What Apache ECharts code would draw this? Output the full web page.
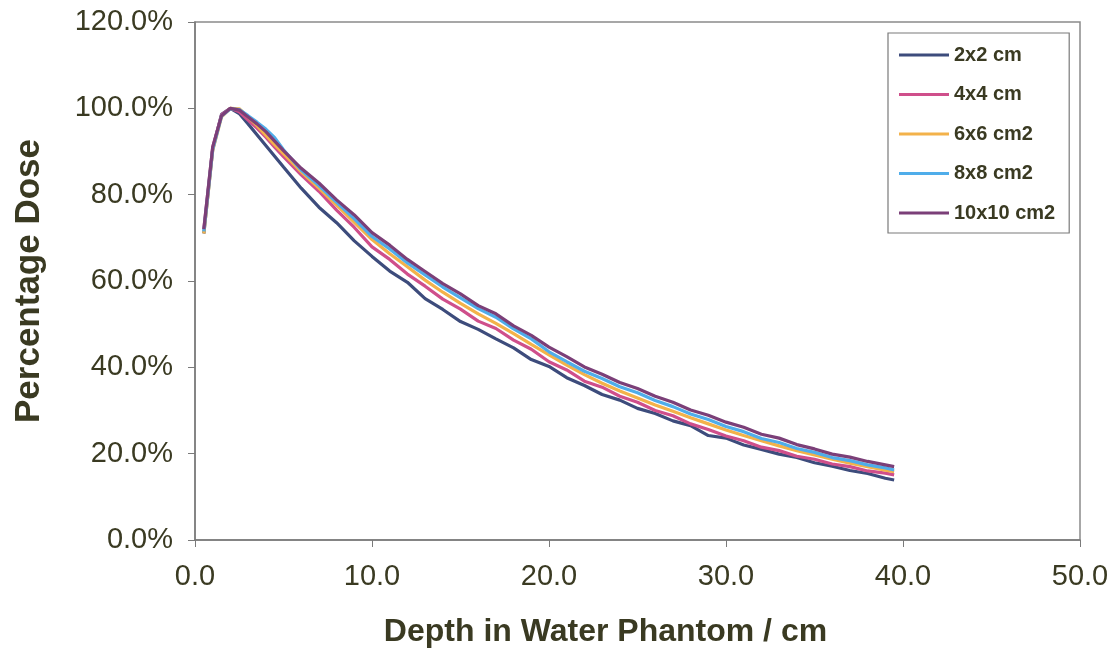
<!DOCTYPE html>
<html>
<head>
<meta charset="utf-8">
<script src="https://cdn.jsdelivr.net/npm/echarts@6/dist/echarts.min.js"></script>
<style>html,body{margin:0;padding:0;background:#fff;}#c{width:1119px;height:654px;}</style>
</head>
<body>
<div id="c"></div>
<script>
const depth = [0.5,1,1.5,2,2.5,3,3.5,4,4.5,5,6,7,8,9,10,11,12,13,14,15,16,17,18,19,20,21,22,23,24,25,26,27,28,29,30,31,32,33,34,35,36,37,38,39,39.5];
const seriesNames = ['2x2 cm','4x4 cm','6x6 cm2','8x8 cm2','10x10 cm2'];
const dose2x2 = [71,90.5,98.6,100,98.8,96.4,93.9,91.4,88.9,86.4,81.5,77.1,73.5,69.3,65.7,62.3,59.7,55.9,53.4,50.6,48.8,46.6,44.5,41.8,40.2,37.6,35.8,33.7,32.4,30.5,29.3,27.6,26.5,24.2,23.6,22.0,21.0,19.9,19.1,17.9,17.1,16.1,15.4,14.3,13.9];
const dose4x4 = [72,91,98.5,100,99.2,97.3,95.4,93.3,91.0,88.8,84.6,80.8,76.4,72.4,67.9,65.0,61.6,58.8,55.8,53.5,50.7,49.0,46.3,44.2,41.3,39.4,36.8,35.4,33.3,31.9,30.0,28.8,26.9,25.6,24.1,23.0,21.5,20.7,19.4,18.7,17.6,17.0,16.0,15.5,15.1];
const dose6x6 = [71,90.2,98,100,99.9,98,96,93.8,91.6,89.5,85.3,81.5,77.6,73.6,69.6,66.3,63.3,60.2,57.4,54.8,52.4,50.2,47.8,45.3,42.9,40.5,38.3,36.3,34.5,32.9,31.3,29.8,28.3,26.9,25.5,24.2,23.0,21.8,20.7,19.7,18.7,17.8,17.0,16.2,15.8];
const dose8x8 = [71.5,90.5,98.2,99.9,99.7,98.3,96.8,95.2,93.2,90.4,85.7,82.1,78.2,74.4,70.3,67.4,64.2,61.4,58.6,56.1,53.6,51.6,48.9,46.6,43.6,41.3,39.1,37.4,35.5,34.1,32.3,30.9,29.2,27.9,26.3,25.1,23.5,22.6,21.2,20.3,19.1,18.4,17.4,16.7,16.2];
const dose10x10 = [72,91,98.3,100,99.6,98,96.4,94.6,92.4,90.2,86.1,82.7,78.8,75.3,71.2,68.3,65.0,62.2,59.4,57.0,54.3,52.4,49.6,47.4,44.7,42.5,40.1,38.4,36.5,35.1,33.3,31.9,30.1,28.9,27.3,26.1,24.5,23.6,22.1,21.1,19.9,19.2,18.2,17.4,17.0];
const allDose = [dose2x2, dose4x4, dose6x6, dose8x8, dose10x10];
const colors = ['#3d4c7c','#cf4f8b','#f3b24a','#4fadea','#7b3f78'];

const textColor = '#3a3a22';
const chart = echarts.init(document.getElementById('c'));
chart.setOption({
  backgroundColor: '#ffffff',
  animation: false,
  grid: {left: 195, right: 39, top: 22, bottom: 114, show: true, borderColor: '#8a8a8a', borderWidth: 1.5},
  legend: {
    orient: 'vertical', left: 888, top: 33,
    padding: [11, 14, 9, 11],
    icon: 'rect',
    itemWidth: 50, itemHeight: 3, itemGap: 17.5,
    borderColor: '#7a7a7a', borderWidth: 1.2,
    textStyle: {fontFamily: 'Liberation Sans', fontWeight: 'bold', fontSize: 20, color: textColor, lineHeight: 22},
    data: seriesNames
  },
  xAxis: {
    type: 'value', min: 0, max: 50, interval: 10,
    name: 'Depth in Water Phantom / cm', nameLocation: 'middle', nameGap: 76,
    nameTextStyle: {fontFamily: 'Liberation Sans', fontWeight: 'bold', fontSize: 32, color: textColor, padding: [0, 64, 0, 0]},
    axisLine: {show: true, lineStyle: {color: '#7a7a7a', width: 1.5}},
    axisTick: {show: true, inside: false, length: 7, lineStyle: {color: '#7a7a7a'}},
    axisLabel: {fontFamily: 'Liberation Sans', fontSize: 29, color: textColor, margin: 22, formatter: v => v.toFixed(1)},
    splitLine: {show: false}
  },
  yAxis: {
    type: 'value', min: 0, max: 120, interval: 20,
    name: 'Percentage Dose', nameLocation: 'middle', nameGap: 148,
    nameTextStyle: {fontFamily: 'Liberation Sans', fontWeight: 'bold', fontSize: 35, color: textColor},
    axisLine: {show: true, lineStyle: {color: '#7a7a7a', width: 1.5}},
    axisTick: {show: true, inside: false, length: 7, lineStyle: {color: '#7a7a7a'}},
    axisLabel: {fontFamily: 'Liberation Sans', fontSize: 29, color: textColor, margin: 22, formatter: v => v.toFixed(1) + '%'},
    splitLine: {show: false}
  },
  series: seriesNames.map((n, i) => ({
    name: n, type: 'line', symbol: 'none', smooth: false,
    color: colors[i],
    itemStyle: {color: colors[i]},
    lineStyle: {width: 3.2, color: colors[i]},
    data: depth.map((d, j) => [d, allDose[i][j]])
  }))
});
</script>
</body>
</html>
